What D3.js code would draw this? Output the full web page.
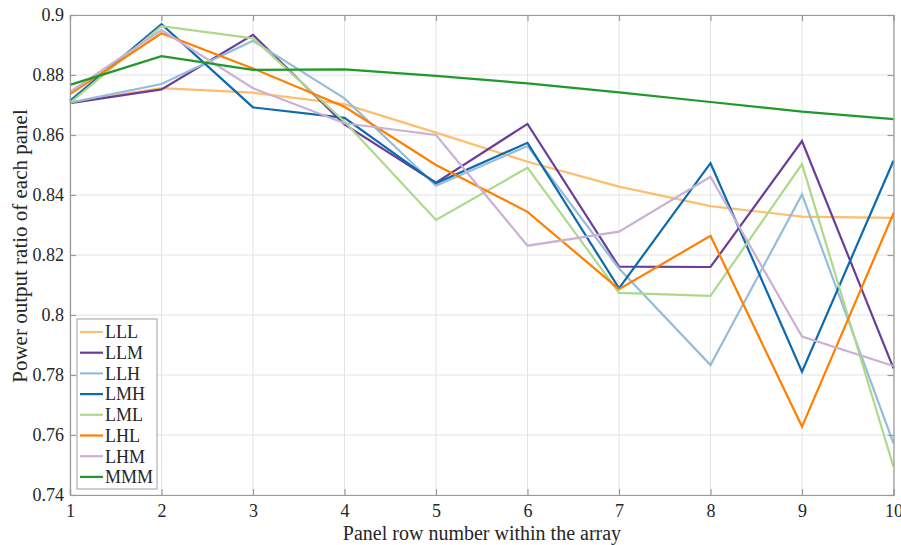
<!DOCTYPE html>
<html><head><meta charset="utf-8">
<script src="https://cdn.jsdelivr.net/npm/d3@7"></script>
<style>body{margin:0;background:#fff}svg{display:block}</style>
</head><body>
<svg id="c" width="901" height="545"></svg>
<script>
const rows = [1,2,3,4,5,6,7,8,9,10];
const seriesNames = ["LLL","LLM","LLH","LMH","LML","LHL","LHM","MMM"];
const seriesColors = ["#fdbf6f","#6a3d9a","#95bdd9","#0c6aad","#acd98a","#ff7f00","#c9b1d6","#1f9a2a"];
const LLL = [0.8708,0.8756,0.8741,0.8703,0.8608,0.8511,0.8428,0.8363,0.8328,0.8324];
const LLM = [0.8706,0.8752,0.8934,0.8635,0.8441,0.8637,0.8161,0.8160,0.8580,0.7822];
const LLH = [0.8708,0.8770,0.8914,0.8722,0.8431,0.8563,0.8155,0.7833,0.8402,0.7572];
const LMH = [0.8714,0.8969,0.8692,0.8657,0.8439,0.8574,0.8089,0.8506,0.7811,0.8514];
const LML = [0.8707,0.8963,0.8922,0.8645,0.8317,0.8491,0.8074,0.8064,0.8503,0.7494];
const LHL = [0.8736,0.8939,0.8822,0.8694,0.8500,0.8344,0.8086,0.8264,0.7628,0.8339];
const LHM = [0.8744,0.8950,0.8756,0.8639,0.8600,0.8231,0.8278,0.8461,0.7928,0.7830];
const MMM = [0.8767,0.8863,0.8817,0.8819,0.8797,0.8772,0.8742,0.8710,0.8678,0.8653];
const seriesValues = [LLL,LLM,LLH,LMH,LML,LHL,LHM,MMM];
const yTicks = [0.74,0.76,0.78,0.8,0.82,0.84,0.86,0.88,0.9];
const xLabel = "Panel row number within the array";
const yLabel = "Power output ratio of each panel";

const svg = d3.select("#c");
const L = 70, R = 893.5, T = 15, B = 495;
const x = d3.scaleLinear().domain([1,10]).range([L,R]);
const y = d3.scaleLinear().domain([0.74,0.9]).range([B,T]);
const font = "'Liberation Serif','Times New Roman',serif";
const gridC = "#e3e3e3", axisC = "#9a9a9a", textC = "#262626";

// grid
const g = svg.append("g");
g.selectAll(".gx").data(rows).join("line")
  .attr("x1",d=>x(d)).attr("x2",d=>x(d)).attr("y1",T).attr("y2",B)
  .attr("stroke",gridC).attr("stroke-width",1);
g.selectAll(".gy").data(yTicks).join("line")
  .attr("x1",L).attr("x2",R).attr("y1",d=>y(d)).attr("y2",d=>y(d))
  .attr("stroke",gridC).attr("stroke-width",1);

// lines
const line = d3.line().x((d,i)=>x(rows[i])).y(d=>y(d));
const lg = svg.append("g");
seriesValues.forEach((vals,k)=>{
  lg.append("path").attr("d",line(vals)).attr("fill","none")
    .attr("stroke",seriesColors[k]).attr("stroke-width",2.2)
    .attr("stroke-linejoin","miter");
});

// axes
const xAxisB = d3.axisBottom(x).tickValues(rows).tickSize(-6).tickFormat(d3.format("d"));
const xAxisT = d3.axisTop(x).tickValues(rows).tickSize(-6).tickFormat("");
const yAxisL = d3.axisLeft(y).tickValues(yTicks).tickSize(-6).tickFormat(d=>d3.format("")(+d.toFixed(2)));
const yAxisR = d3.axisRight(y).tickValues(yTicks).tickSize(-6).tickFormat("");
function style(sel){
  sel.select(".domain").attr("stroke",axisC).attr("stroke-width",1.2);
  sel.selectAll(".tick line").attr("stroke",axisC).attr("stroke-width",1.2);
  sel.selectAll(".tick text").attr("fill",textC).attr("font-family",font).attr("font-size",18);
}
svg.append("g").attr("transform",`translate(0,${B})`).call(xAxisB).call(style)
  .call(s=>s.selectAll(".tick text").attr("dy","0.95em").attr("y",5));
svg.append("g").attr("transform",`translate(0,${T})`).call(xAxisT).call(style);
svg.append("g").attr("transform",`translate(${L},0)`).call(yAxisL).call(style)
  .call(s=>s.selectAll(".tick text").attr("x",-6));
svg.append("g").attr("transform",`translate(${R},0)`).call(yAxisR).call(style);

// axis labels
svg.append("text").attr("x",482).attr("y",540).attr("text-anchor","middle")
  .attr("font-family",font).attr("font-size",20).attr("fill",textC).text(xLabel);
svg.append("text").attr("transform","translate(27,246) rotate(-90)").attr("text-anchor","middle")
  .attr("font-family",font).attr("font-size",21).attr("fill",textC).text(yLabel);

// legend
const lgX = 77, lgY = 319, lgW = 80, lgH = 170, rowH = 20.7;
const leg = svg.append("g");
leg.append("rect").attr("x",lgX).attr("y",lgY).attr("width",lgW).attr("height",lgH)
  .attr("fill","#fff").attr("stroke","#a0a0a0").attr("stroke-width",1);
seriesNames.forEach((n,k)=>{
  const cy = lgY + 13 + k*rowH;
  leg.append("line").attr("x1",lgX+3).attr("x2",lgX+26).attr("y1",cy).attr("y2",cy)
    .attr("stroke",seriesColors[k]).attr("stroke-width",2.2);
  leg.append("text").attr("x",lgX+28).attr("y",cy).attr("dy","0.35em")
    .attr("font-family",font).attr("font-size",18).attr("fill",textC).text(n);
});
</script>
</body></html>
